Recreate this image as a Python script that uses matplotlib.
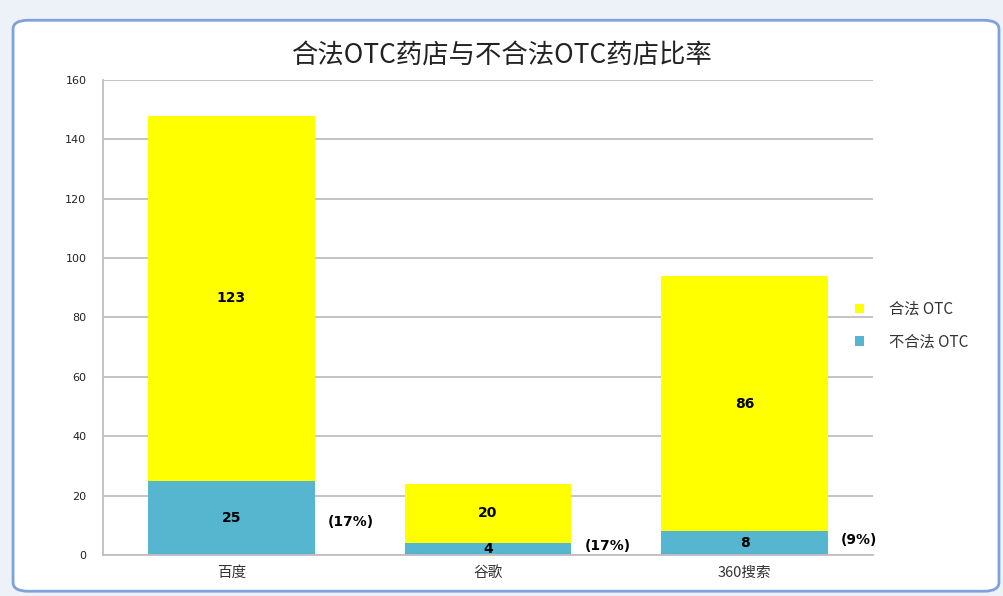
import matplotlib
matplotlib.use("Agg")
import matplotlib.pyplot as plt
from matplotlib.patches import FancyBboxPatch, Rectangle
import numpy as np

plt.rcParams['font.family'] = ['Noto Sans CJK SC', 'DejaVu Sans']

categories = ['百度', '谷歌', '360搜索']
illegal = [25, 4, 8]
legal = [123, 20, 86]
pct_labels = ['(17%)', '(17%)', '(9%)']
pct_y = [11, 3, 5]
series_names = ['合法 OTC', '不合法 OTC']
yticks = [0, 20, 40, 60, 80, 100, 120, 140, 160]

yellow = '#FFFF00'
blue = '#56B6CF'

fig = plt.figure(figsize=(10.04, 5.96), dpi=100)
fig.patch.set_facecolor('white')

bg = Rectangle((0, 0), 1, 1, transform=fig.transFigure, facecolor='#EDF1F8',
               edgecolor='none', zorder=-3)
fig.patches.append(bg)
frame = FancyBboxPatch((0.013, 0.008), 0.982, 0.958,
                       boxstyle='round,pad=0,rounding_size=0.015',
                       transform=fig.transFigure, facecolor='white',
                       edgecolor='#7FA2DD', linewidth=2.0, zorder=-2)
fig.patches.append(frame)

ax = fig.add_axes([0.1026, 0.0688, 0.767, 0.797])
x = np.arange(len(categories))
w = 0.65
b1 = ax.bar(x, illegal, width=w, color=blue, zorder=2)
b2 = ax.bar(x, legal, width=w, bottom=illegal, color=yellow, zorder=2)

num_font = dict(family='DejaVu Sans', fontsize=10, fontweight='bold', color='black', zorder=3)
for i in range(len(categories)):
    ax.text(x[i], illegal[i] / 2, str(illegal[i]), ha='center', va='center', **num_font)
    ax.text(x[i], illegal[i] + legal[i] / 2, str(legal[i]), ha='center', va='center', **num_font)
    ax.text(x[i] + w / 2 + 0.05, pct_y[i], pct_labels[i], ha='left', va='center', **num_font)

ax.set_xlim(-0.5, 2.5)
ax.set_ylim(0, 160)
ax.set_yticks(yticks)
ax.set_yticklabels([str(v) for v in yticks], fontsize=8, color='#222222',
                   family='DejaVu Sans')
ax.set_xticks(x)
ax.set_xticklabels(categories, fontsize=10.5, color='#333333')
ax.tick_params(axis='both', length=0, pad=8)
ax.tick_params(axis='y', pad=12)
ax.yaxis.grid(True, color='#BFBFBF', linewidth=1.3, zorder=0)
ax.set_axisbelow(True)
for s in ['top', 'right']:
    ax.spines[s].set_visible(False)
ax.spines['left'].set_color('#BFBFBF')
ax.spines['left'].set_linewidth(1.3)
ax.spines['bottom'].set_color('#BFBFBF')
ax.spines['bottom'].set_linewidth(1.3)

fig.text(0.5, 0.908, '合法OTC药店与不合法OTC药店比率', ha='center', va='center',
         fontsize=19, color='#222222')

leg = fig.legend([b2, b1], series_names, loc='center left',
                 bbox_to_anchor=(0.838, 0.454), frameon=False, fontsize=11,
                 handlelength=0.6, handleheight=0.6, handletextpad=1.6,
                 labelspacing=1.0, labelcolor='#333333')

fig.savefig('out.png', dpi=100)
